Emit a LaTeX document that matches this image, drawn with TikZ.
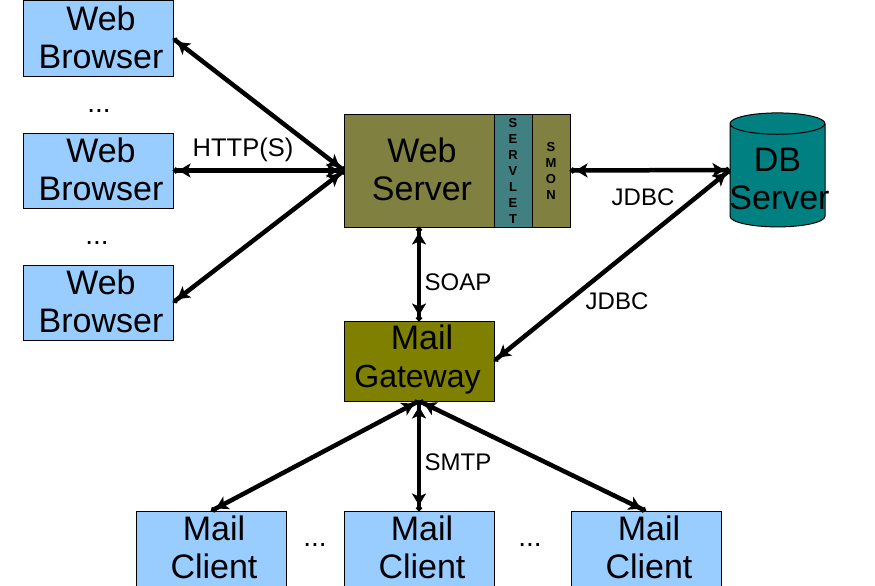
\documentclass[tikz,border=0pt]{standalone}
\usepackage{fontspec}
\setmainfont{Liberation Sans}
\usetikzlibrary{arrows.meta,positioning,shapes.geometric}
\definecolor{clientblue}{HTML}{99CCFF}
\definecolor{serverolive}{HTML}{808040}
\definecolor{gatewayolive}{HTML}{808000}
\definecolor{servletteal}{HTML}{408080}
\definecolor{dbteal}{HTML}{008080}
\tikzset{
  captext/.style={align=center,inner sep=0pt,xshift=3pt,yshift=1.5pt,
    font=\fontsize{34}{38}\selectfont},
  caption/.style={label={[captext]center:#1}},
  box/.style={draw,line width=1pt,outer sep=0pt,inner sep=0pt,align=center},
  client/.style={box,fill=clientblue,minimum width=150pt,minimum height=75pt},
  strip/.style={box,minimum width=38pt,minimum height=113pt,
    font=\fontsize{13}{16}\selectfont},
  link/.style={line width=4.5pt,
    {Circle[length=5.5pt,width=5.5pt]Stealth[length=12pt,width=14pt,inset=3pt]}-{Stealth[length=12pt,width=14pt,inset=3pt]Circle[length=5.5pt,width=5.5pt]}},
  tag/.style={font=\fontsize{24}{26}\selectfont,inner sep=0pt},
  dots/.style={font=\fontsize{28}{30}\selectfont,inner sep=0pt}
}
\begin{document}
\begin{tikzpicture}[x=1pt,y=-1pt]
  \useasboundingbox (0,0) rectangle (875,586);
  \clip (0,0) rectangle (875,586);
  \node[client,caption={Web\\Browser}] (wb1) at (98,38.5) {};
  \node[client,caption={Web\\Browser}] (wb2) at (98,170.5) {};
  \node[client,caption={Web\\Browser}] (wb3) at (98,302.5) {};
  \node[dots] (d1) at (99,111) {...};
  \node[dots] (d2) at (97,243) {...};

  \node[box,fill=serverolive,minimum width=150pt,minimum height=113pt,caption={Web\\Server}] (ws) at (419,170.5) {};
  \node[strip,fill=servletteal,right=0pt of ws] (servlet) {\textbf{S}\\\textbf{E}\\\textbf{R}\\\textbf{V}\\\textbf{L}\\\textbf{E}\\\textbf{T}};
  \node[strip,fill=serverolive,right=0pt of servlet] (smon) {\textbf{S}\\\textbf{M}\\\textbf{O}\\\textbf{N}};

  \node[draw,line width=1pt,fill=dbteal,cylinder,shape border rotate=90,shape aspect=0.305,
    minimum width=95pt,minimum height=114pt,outer sep=0pt,inner sep=0pt,align=center,
    font=\fontsize{34}{38}\selectfont] (db) at (777.5,175.5) {\rule{0pt}{29.5pt}DB\\\makebox[70pt]{\hspace*{4pt}Server}};
  \coordinate (dbport) at ([yshift=5.5pt]db.west);

  \node[box,fill=gatewayolive,minimum width=150pt,minimum height=80pt,caption={Mail\\{\fontsize{32}{38}\selectfont Gateway}\hspace*{9pt}}] (gw) at (419,361) {};

  \node[client,caption={Mail\\Client}] (mc1) at (211,548.5) {};
  \node[client,caption={Mail\\Client}] (mc2) at (419,548.5) {};
  \node[client,caption={Mail\\Client}] (mc3) at (646,548.5) {};
  \node[dots] (d3) at (315,545) {...};
  \node[dots] (d4) at (530,545) {...};

  \draw[link] (wb1.east) -- (ws.west);
  \draw[link] (wb2.east) -- (ws.west);
  \draw[link] (wb3.east) -- (ws.west);
  \draw[link] (smon.east) -- (dbport);
  \draw[link] (ws.south) -- (gw.north);
  \draw[link] (gw.east) -- (dbport);
  \draw[link] (gw.south) -- (mc1.north);
  \draw[link] (gw.south) -- (mc2.north);
  \draw[link] (gw.south) -- (mc3.north);

  \node[tag,font=\fontsize{25.5}{26}\selectfont] (http) at (243,150) {HTTP(S)};
  \node[tag] (jdbc1) at (643,197) {JDBC};
  \node[tag] (jdbc2) at (617,301) {JDBC};
  \node[tag] (soap) at (458,282) {SOAP};
  \node[tag] (smtp) at (458,462) {SMTP};
\end{tikzpicture}
\end{document}
